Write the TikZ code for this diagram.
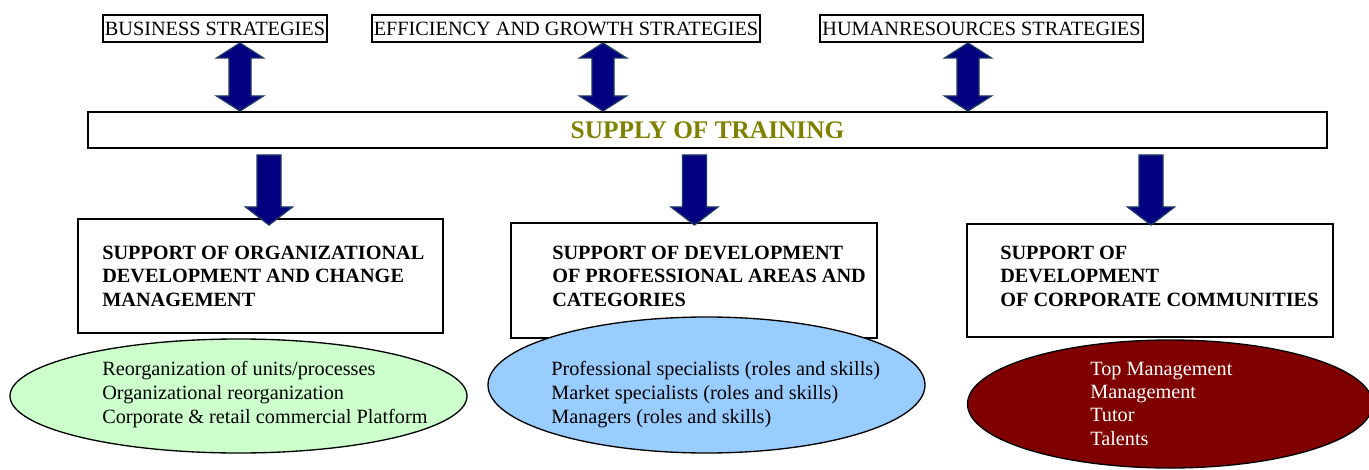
\documentclass[tikz,border=0pt]{standalone}
\usepackage{fontspec}
\setmainfont{Liberation Serif}
\usetikzlibrary{calc,shapes.geometric}

\definecolor{arrowfill}{RGB}{0,0,128}
\definecolor{arrowedge}{RGB}{31,56,100}
\definecolor{supplyolive}{RGB}{128,128,0}
\definecolor{ellgreen}{RGB}{204,255,204}
\definecolor{ellblue}{RGB}{153,204,255}
\definecolor{ellred}{RGB}{128,0,0}

% two-headed block arrow, #1 = upper tip, #2 = lower tip
\newcommand{\dblblock}[2]{%
  \filldraw[blockarrow] let \p1=(#1), \p2=(#2) in
    (\x1,\y1) -- (\x1+17.6pt,\y1-11.25pt) -- (\x1+8.25pt,\y1-11.25pt)
    -- (\x1+8.25pt,\y2+11.25pt) -- (\x1+17.6pt,\y2+11.25pt) -- (\x2,\y2)
    -- (\x1-17.6pt,\y2+11.25pt) -- (\x1-8.25pt,\y2+11.25pt)
    -- (\x1-8.25pt,\y1-11.25pt) -- (\x1-17.6pt,\y1-11.25pt) -- cycle;}
% block arrow pointing down, #1 = top of shaft, #2 = tip
\newcommand{\downblock}[2]{%
  \filldraw[blockarrow] let \p1=(#1), \p2=(#2) in
    (\x1-9pt,\y1) -- (\x1+9pt,\y1) -- (\x1+9pt,\y2+13.5pt)
    -- (\x1+17.6pt,\y2+13.5pt) -- (\x2,\y2) -- (\x1-17.6pt,\y2+13.5pt)
    -- (\x1-9pt,\y2+13.5pt) -- cycle;}

\begin{document}
\begin{tikzpicture}
    [x=0.75pt,y=-0.75pt,
     stratbox/.style={draw,line width=1.5pt,inner xsep=1.5pt,inner ysep=0pt,minimum height=20.25pt,
       font=\fontsize{15.2}{17.6}\selectfont},
     supplybox/.style={draw,line width=1.5pt,minimum width=929.25pt,minimum height=27pt,
       text=supplyolive,font=\fontsize{19}{22}\selectfont\bfseries},
     supportbox/.style={draw,line width=1.5pt,minimum width=274pt},
     supporttext/.style={anchor=north west,inner sep=0pt,align=left,
       font=\fontsize{15.2}{17.6}\selectfont\bfseries},
     itemtext/.style={anchor=north west,inner sep=0pt,align=left,
       font=\fontsize{15.2}{18}\selectfont},
     itemell/.style={ellipse,draw,line width=1pt,inner sep=0pt},
     blockarrow/.style={fill=arrowfill,draw=arrowedge,line width=1pt}]
    \useasboundingbox (0,0) rectangle (1369,470);
    \clip (0,0) rectangle (1369,470);

    % strategies
    \node[stratbox] (bus) at (215,28.5) {BUSINESS STRATEGIES};
    \node[stratbox] (eff) at (566,28.5) {EFFICIENCY AND GROWTH STRATEGIES};
    \node[stratbox] (hr) at (981.5,28.5) {HUMANRESOURCES STRATEGIES};

    \node[supplybox] (supply) at (707.5,130) {SUPPLY OF TRAINING};

    % support areas
    \node[supportbox,minimum height=85.5pt] (org) at (260.5,276) {};
    \node[supportbox,minimum height=86.25pt] (prof) at (694,280.5) {};
    \node[supportbox,minimum height=84.75pt] (corp) at (1150,280.5) {};
    \node[supporttext] (orgtxt) at (102,245.5)
        {SUPPORT OF ORGANIZATIONAL\\DEVELOPMENT AND CHANGE\\MANAGEMENT};
    \node[supporttext] (proftxt) at (552,245.5)
        {SUPPORT OF DEVELOPMENT\\OF PROFESSIONAL AREAS AND\\CATEGORIES};
    \node[supporttext] (corptxt) at (1000,245.5)
        {SUPPORT OF\\DEVELOPMENT\\OF CORPORATE COMMUNITIES};

    % arrows
    \coordinate (u1) at (240,0);
    \coordinate (u2) at (603,0);
    \coordinate (u3) at (968,0);
    \dblblock{bus.south -| u1}{supply.north -| u1}
    \dblblock{eff.south -| u2}{supply.north -| u2}
    \dblblock{hr.south -| u3}{supply.north -| u3}
    \coordinate (d1) at (269,225);
    \coordinate (d2) at (694.5,225);
    \coordinate (d3) at (1151,225);
    \foreach \d in {d1,d2,d3}
        \downblock{$(supply.south -| \d)+(0,6)$}{\d};

    % target groups
    \node[itemell,fill=ellgreen,minimum width=342.75pt,minimum height=85.5pt] (orgell) at (238.5,396) {};
    \node[itemell,fill=ellblue,minimum width=327.75pt,minimum height=102pt] (profell) at (706.5,385) {};
    \node[itemell,fill=ellred,minimum width=303.75pt,minimum height=96pt] (corpell) at (1170,404) {};
    \node[itemtext] (orgitems) at (102,361.2)
        {Reorganization of units/processes\\Organizational reorganization\\Corporate \& retail commercial Platform};
    \node[itemtext] (profitems) at (551,361.2)
        {Professional specialists (roles and skills)\\Market specialists (roles and skills)\\Managers (roles and skills)};
    \node[itemtext,text=white,font=\fontsize{15.2}{17.5}\selectfont] (corpitems) at (1090,361.6)
        {Top Management\\Management\\Tutor\\Talents};
\end{tikzpicture}
\end{document}
